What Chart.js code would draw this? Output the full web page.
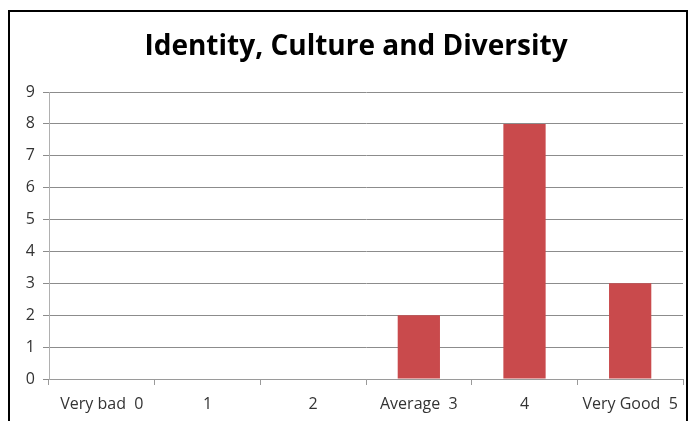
<!DOCTYPE html>
<html>
<head>
<meta charset="utf-8">
<script src="https://cdn.jsdelivr.net/npm/chart.js@4.4.1/dist/chart.umd.min.js"></script>
<style>
  html, body { margin: 0; padding: 0; background: #fff; }
  #wrap { position: relative; width: 690px; height: 421px; }
  #frame {
    position: absolute; left: 8px; top: 10px; width: 680px; height: 420px;
    border: 2px solid #000; box-sizing: border-box; pointer-events: none;
  }
  canvas { position: absolute; left: 0; top: 0; }
</style>
</head>
<body>
<div id="wrap">
  <canvas id="ratingChart" width="690" height="421"></canvas>
  <div id="frame"></div>
</div>
<script>
// Câu trả lời theo thang điểm 0 - 5
const chartTitle = 'Identity, Culture and Diversity';
const ratingLabels = ['Very bad  0', '1', '2', 'Average  3', '4', 'Very Good  5'];
const responseCounts = [0, 0, 0, 2, 8, 3];
const yTicks = [0, 1, 2, 3, 4, 5, 6, 7, 8, 9];

// Tiêu đề canh giữa theo khung viền chứ không theo vùng biểu đồ
const framedTitle = {
    id: 'framedTitle',
    afterDraw(chart) {
        const c = chart.ctx;
        c.save();
        c.font = 'bold 28px "Open Sans"';
        c.fillStyle = '#000';
        c.textAlign = 'center';
        c.textBaseline = 'middle';
        c.fillText(chartTitle, 356, 47);
        c.restore();
    }
};

const ctx = document.getElementById('ratingChart').getContext('2d');
new Chart(ctx, {
    type: 'bar',
    data: {
        labels: ratingLabels,
        datasets: [{
            label: chartTitle,
            data: responseCounts,
            backgroundColor: '#C94A4C',
            borderWidth: 0,
            barPercentage: 0.4,
            categoryPercentage: 1
        }]
    },
    options: {
        responsive: false,
        animation: false,
        layout: { padding: { left: 0, right: 7, top: 92, bottom: 0 } },
        plugins: {
            legend: { display: false },
            tooltip: { enabled: false },
            title: { display: false }
        },
        scales: {
            x: {
                grid: {
                    offset: true,
                    drawOnChartArea: false,
                    color: '#9a9a9a',
                    tickLength: 6
                },
                border: { color: '#9a9a9a' },
                ticks: {
                    color: '#333',
                    font: { family: 'Open Sans', size: 16 },
                    padding: 10,
                    maxRotation: 0,
                    autoSkip: false
                },
                afterFit: function (scale) { scale.height = 42; }
            },
            y: {
                min: 0,
                max: 9,
                afterBuildTicks: function (scale) {
                    scale.ticks = yTicks.map(v => ({ value: v }));
                },
                grid: {
                    color: '#8c8c8c',
                    tickLength: 6
                },
                border: { color: '#b0b0b0' },
                ticks: {
                    color: '#333',
                    font: { family: 'Open Sans', size: 16 },
                    padding: 8
                },
                afterFit: function (scale) { scale.width = 49; }
            }
        }
    },
    plugins: [framedTitle]
});
</script>
</body>
</html>
